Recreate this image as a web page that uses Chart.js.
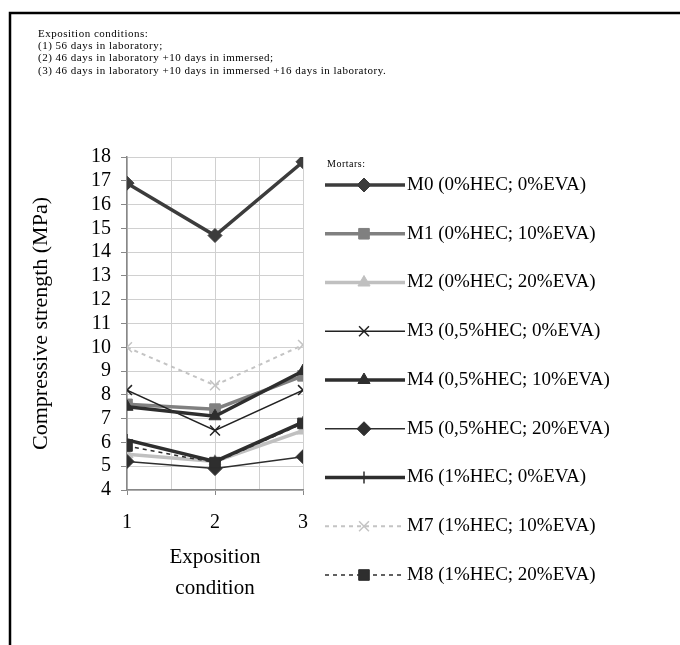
<!DOCTYPE html>
<html><head><meta charset="utf-8">
<script src="https://cdn.jsdelivr.net/npm/chart.js@4/dist/chart.umd.min.js"></script>
<style>html,body{margin:0;padding:0;background:#fff;}#wrap{width:680px;height:645px;}</style>
</head><body><div id="wrap"><canvas id="c" width="680" height="645"></canvas></div>
<script>
// ---- data ----
const conditions = [1, 2, 3];
const seriesNames = [
  'M0 (0%HEC; 0%EVA)',
  'M1 (0%HEC; 10%EVA)',
  'M2 (0%HEC; 20%EVA)',
  'M3 (0,5%HEC; 0%EVA)',
  'M4 (0,5%HEC; 10%EVA)',
  'M5 (0,5%HEC; 20%EVA)',
  'M6 (1%HEC; 0%EVA)',
  'M7 (1%HEC; 10%EVA)',
  'M8 (1%HEC; 20%EVA)'
];
const m0 = [16.9, 14.7, 17.8];
const m1 = [7.6, 7.4, 8.8];
const m2 = [5.5, 5.2, 6.5];
const m3 = [8.2, 6.5, 8.2];
const m4 = [7.5, 7.1, 9.0];
const m5 = [5.2, 4.9, 5.4];
const m6 = [6.1, 5.2, 6.85];
const m7 = [10.0, 8.4, 10.1];
const m8 = [5.85, 5.15, 6.8];
const yTickMin = 4, yTickMax = 18, yTickStep = 1;
const headerLines = [
  'Exposition conditions:',
  '(1) 56 days in laboratory;',
  '(2) 46 days in laboratory +10 days in immersed;',
  '(3) 46 days in laboratory +10 days in immersed +16 days in laboratory.'
];
const legendTitle = 'Mortars:';
const yTitle = 'Compressive strength (MPa)';
const xTitle = ['Exposition', 'condition'];

// ---- styles ----
const allValues = [m0, m1, m2, m3, m4, m5, m6, m7, m8];
const styles = [
  {c:'#3c3c3c', w:3.5, dash:[], p:'rectRot', r:7},
  {c:'#808080', w:3.5, dash:[], p:'rect', r:7.5},
  {c:'#c0c0c0', w:3.5, dash:[], p:'triangle', r:7},
  {c:'#222222', w:1.5, dash:[], p:'crossRot', r:7, pb:1.5},
  {c:'#2e2e2e', w:3.5, dash:[], p:'triangle', r:7},
  {c:'#2e2e2e', w:1.5, dash:[], p:'rectRot', r:7},
  {c:'#2e2e2e', w:3.5, dash:[], p:'cross', r:6, pb:1.5},
  {c:'#c4c4c4', w:2, dash:[4,4], p:'crossRot', r:7, pb:1.5},
  {c:'#2e2e2e', w:1.5, dash:[4,4], p:'rect', r:7.5}
];
const FONT = "'Liberation Serif', 'Times New Roman', serif";

const datasets = allValues.map((vals, i) => {
  const s = styles[i];
  return {
    label: seriesNames[i],
    data: vals.map((v, k) => ({x: conditions[k], y: v})),
    borderColor: s.c, backgroundColor: s.c,
    borderWidth: s.w, borderDash: s.dash,
    pointStyle: s.p, pointRadius: s.r, pointHoverRadius: s.r,
    pointBackgroundColor: s.c, pointBorderColor: s.c,
    pointBorderWidth: s.pb || 1,
    tension: 0, fill: false,
    order: allValues.length - i
  };
});

function drawMarker(ctx, style, x, y, r, color, bw) {
  ctx.save();
  ctx.setLineDash([]);
  ctx.fillStyle = color; ctx.strokeStyle = color; ctx.lineWidth = bw;
  ctx.beginPath();
  if (style === 'rectRot') {
    ctx.moveTo(x, y - r); ctx.lineTo(x + r, y); ctx.lineTo(x, y + r); ctx.lineTo(x - r, y); ctx.closePath();
    ctx.fill(); ctx.stroke();
  } else if (style === 'rect') {
    const h = r * Math.SQRT1_2;
    ctx.rect(x - h, y - h, 2 * h, 2 * h); ctx.fill(); ctx.stroke();
  } else if (style === 'triangle') {
    const s = r * 3 / Math.sqrt(3), hh = s * Math.sqrt(3) / 2;
    ctx.moveTo(x, y - 2 * hh / 3); ctx.lineTo(x + s / 2, y + hh / 3); ctx.lineTo(x - s / 2, y + hh / 3); ctx.closePath();
    ctx.fill(); ctx.stroke();
  } else if (style === 'crossRot') {
    const d = r * Math.SQRT1_2;
    ctx.moveTo(x - d, y - d); ctx.lineTo(x + d, y + d); ctx.moveTo(x + d, y - d); ctx.lineTo(x - d, y + d); ctx.stroke();
  } else if (style === 'cross') {
    ctx.moveTo(x, y - r); ctx.lineTo(x, y + r); ctx.moveTo(x - r, y); ctx.lineTo(x + r, y); ctx.stroke();
  }
  ctx.restore();
}

const decor = {
  id: 'decor',
  beforeDraw(chart) {
    const ctx = chart.ctx;
    ctx.save();
    ctx.fillStyle = '#fff'; ctx.fillRect(0, 0, chart.width, chart.height);
    ctx.strokeStyle = '#000'; ctx.lineWidth = 2.5;
    ctx.beginPath(); ctx.moveTo(10, 650); ctx.lineTo(10, 13); ctx.lineTo(690, 13); ctx.stroke();
    ctx.restore();
  },
  afterDraw(chart) {
    const ctx = chart.ctx;
    ctx.save();
    ctx.fillStyle = '#000';
    ctx.textBaseline = 'middle'; ctx.textAlign = 'left';
    ctx.font = '11px ' + FONT;
    ctx.letterSpacing = '0.5px';
    headerLines.forEach((t, i) => ctx.fillText(t, 38, 34 + i * 12.3));
    ctx.font = '10px ' + FONT;
    ctx.fillText(legendTitle, 327, 164);
    ctx.letterSpacing = '0px';
    ctx.font = '19px ' + FONT;
    datasets.forEach((ds, i) => {
      const s = styles[i];
      const y = 185 + i * 48.75;
      ctx.save();
      ctx.strokeStyle = s.c; ctx.lineWidth = s.w; ctx.setLineDash(s.dash);
      ctx.beginPath(); ctx.moveTo(325, y); ctx.lineTo(405, y); ctx.stroke();
      ctx.restore();
      drawMarker(ctx, s.p, 364, y, s.r, s.c, s.pb || 1);
      ctx.fillStyle = '#000';
      ctx.fillText(ds.label, 407, y);
    });
    ctx.restore();
  }
};

new Chart(document.getElementById('c'), {
  type: 'line',
  data: { datasets },
  plugins: [decor],
  options: {
    responsive: false, animation: false,
    layout: { padding: { left: 0, top: 157, right: 377, bottom: 35 } },
    plugins: { legend: { display: false }, tooltip: { enabled: false } },
    scales: {
      x: {
        type: 'linear', min: 1, max: 3,
        afterFit(s) { s.height = 120; },
        ticks: { stepSize: 0.5, color: '#000', padding: 16, maxRotation: 0, autoSkip: false,
          font: { family: FONT, size: 20 },
          callback: v => (v % 1 === 0 ? String(v) : '') },
        grid: { color: '#d0d0d0', lineWidth: 1, tickLength: 5,
          tickColor: c => (c.tick && c.tick.value % 1 === 0 ? '#888' : 'rgba(0,0,0,0)') },
        border: { color: '#888', width: 1.5 },
        title: { display: true, text: xTitle, color: '#000',
          font: { family: FONT, size: 21, lineHeight: '31px' }, padding: { top: 0, bottom: 6 } }
      },
      y: {
        min: yTickMin, max: yTickMax,
        afterFit(s) { s.width = 127; },
        ticks: { stepSize: yTickStep, color: '#000', padding: 10, autoSkip: false,
          font: { family: FONT, size: 20 } },
        grid: { color: '#d0d0d0', lineWidth: 1, tickLength: 6, tickColor: '#888' },
        border: { color: '#888', width: 1.5 },
        title: { display: true, text: yTitle, color: '#000',
          font: { family: FONT, size: 22 }, padding: { top: 28, bottom: 0 } }
      }
    }
  }
});
</script></body></html>
